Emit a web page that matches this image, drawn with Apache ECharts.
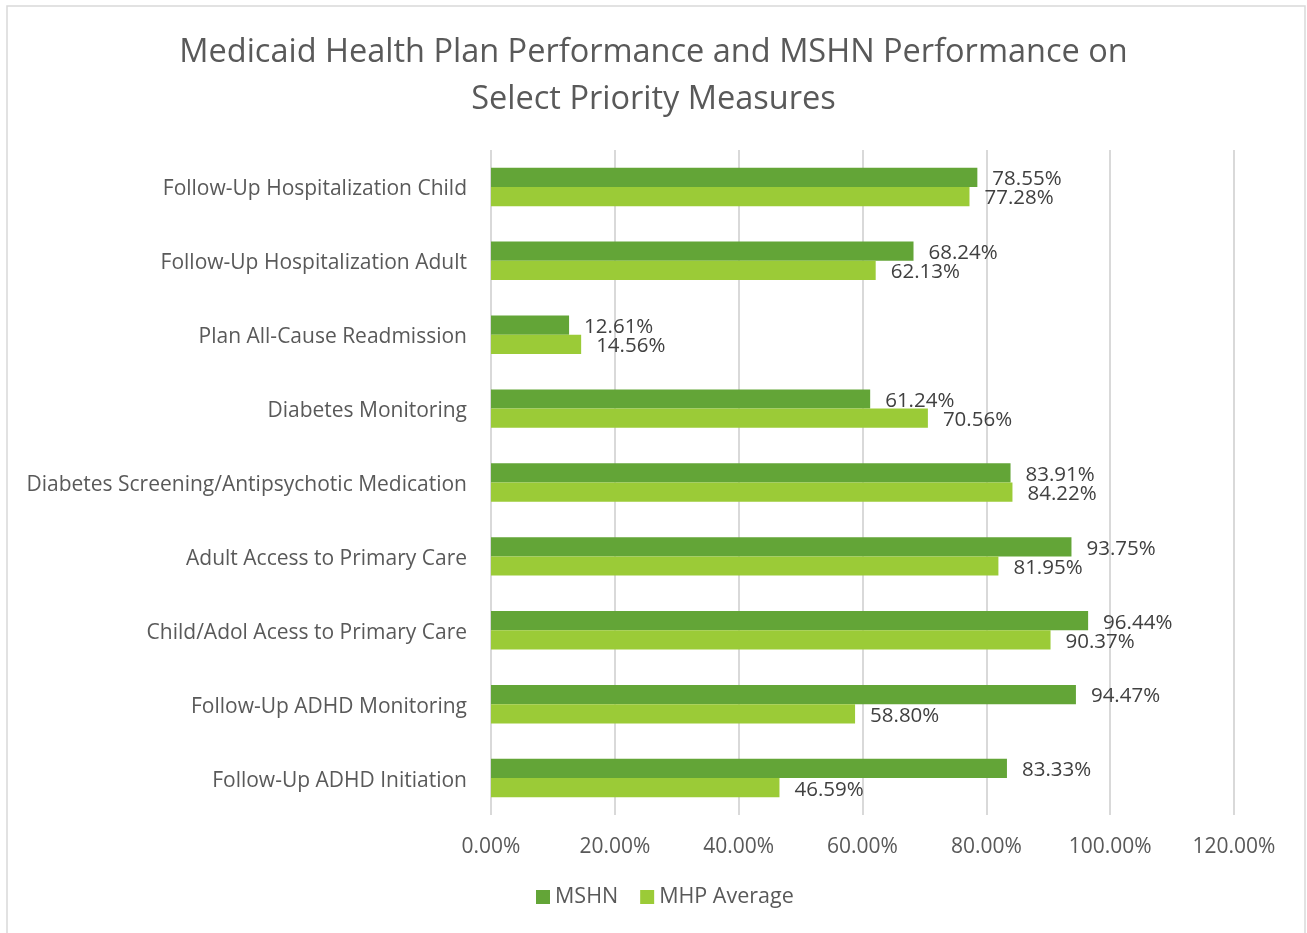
<!DOCTYPE html>
<html>
<head>
<meta charset="utf-8">
<script src="https://cdn.jsdelivr.net/npm/echarts@6/dist/echarts.min.js"></script>
<style>
  html, body { margin: 0; padding: 0; background: #fff; }
  #chart { width: 1307px; height: 933px; }
</style>
</head>
<body>
<div id="chart"></div>
<script>
// categories, top to bottom
const categories = [
  'Follow-Up Hospitalization Child',
  'Follow-Up Hospitalization Adult',
  'Plan All-Cause Readmission',
  'Diabetes Monitoring',
  'Diabetes Screening/Antipsychotic Medication',
  'Adult Access to Primary Care',
  'Child/Adol Acess to Primary Care',
  'Follow-Up ADHD Monitoring',
  'Follow-Up ADHD Initiation'
]
const mshn = [78.55, 68.24, 12.61, 61.24, 83.91, 93.75, 96.44, 94.47, 83.33]
const mhpAverage = [77.28, 62.13, 14.56, 70.56, 84.22, 81.95, 90.37, 58.80, 46.59]

const FONT = "'Open Sans', 'Noto Sans', sans-serif"
const TEXT = '#595959'

const chart = echarts.init(document.getElementById('chart'))

const labelOpt = {
  show: true,
  position: 'right',
  distance: 15,
  offset: [0, 2],
  color: '#404040',
  fontSize: 20.5,
  fontFamily: FONT,
  formatter: ({ value }) => value.toFixed(2) + '%'
}

chart.setOption({
  animation: false,
  textStyle: { fontFamily: FONT },
  title: {
    text: 'Medicaid Health Plan Performance and MSHN Performance on\nSelect Priority Measures',
    left: 'center',
    top: 24,
    textStyle: { fontSize: 32.5, fontWeight: 'normal', color: TEXT, lineHeight: 47, fontFamily: FONT }
  },
  legend: {
    bottom: 20,
    left: 531,
    itemWidth: 14,
    itemHeight: 14,
    itemGap: 22,
    icon: 'rect',
    textStyle: { fontSize: 21.5, color: TEXT, fontFamily: FONT },
    data: ['MSHN', 'MHP Average']
  },
  graphic: [{
    type: 'rect',
    shape: { x: 7, y: 6, width: 1298, height: 940 },
    style: { fill: 'none', stroke: '#d9d9d9', lineWidth: 1.5 },
    silent: true
  }],
  grid: { left: 491, right: 73, top: 150, bottom: 118 },
  xAxis: {
    type: 'value',
    min: 0,
    max: 120,
    interval: 20,
    axisLine: { show: false },
    axisTick: { show: false },
    splitLine: { lineStyle: { color: '#d9d9d9', width: 2 } },
    axisLabel: {
      margin: 22,
      fontSize: 21,
      color: TEXT,
      fontFamily: FONT,
      formatter: v => v.toFixed(2) + '%'
    }
  },
  yAxis: {
    type: 'category',
    inverse: true,
    data: categories,
    axisLine: { show: false },
    axisTick: { show: false },
    axisLabel: {
      margin: 24,
      color: TEXT,
      fontFamily: FONT,
      formatter: v => '{c|' + v + '}',
      rich: { c: { fontSize: 21, color: TEXT, fontFamily: FONT, padding: [5, 0, 0, 0] } }
    }
  },
  series: [
    {
      name: 'MSHN',
      type: 'bar',
      data: mshn,
      barGap: '0%',
      barCategoryGap: '48%',
      itemStyle: { color: '#63a537' },
      label: labelOpt
    },
    {
      name: 'MHP Average',
      type: 'bar',
      data: mhpAverage,
      barGap: '0%',
      barCategoryGap: '48%',
      itemStyle: { color: '#9bcb37' },
      label: labelOpt
    }
  ]
})
</script>
</body>
</html>
